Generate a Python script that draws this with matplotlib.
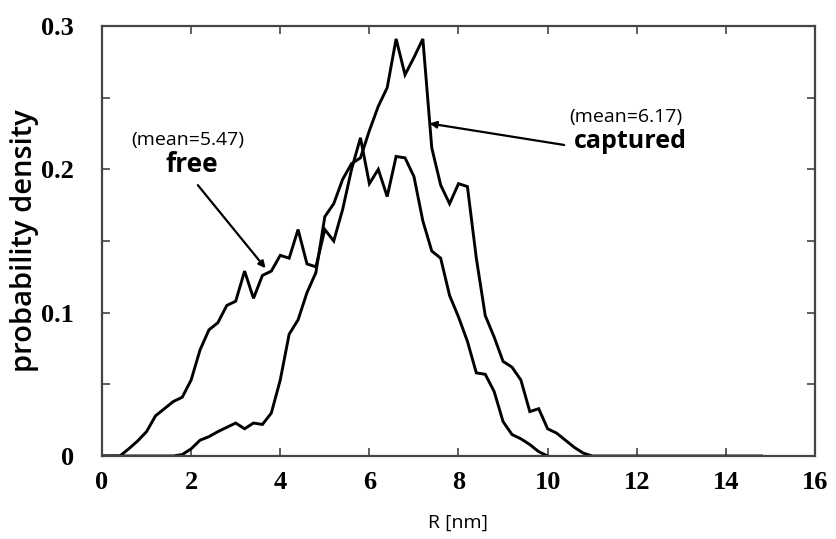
import matplotlib
matplotlib.use("Agg")
import matplotlib.pyplot as plt
import numpy as np
from matplotlib.ticker import MultipleLocator, FixedLocator

# --- data ---
free_r = [0.0, 0.2, 0.4, 0.6, 0.8, 1.0, 1.2, 1.4, 1.6, 1.8, 2.0, 2.2, 2.4, 2.6, 2.8,
          3.0, 3.2, 3.4, 3.6, 3.8, 4.0, 4.2, 4.4, 4.6, 4.8, 5.0, 5.2, 5.4, 5.6, 5.8,
          6.0, 6.2, 6.4, 6.6, 6.8, 7.0, 7.2, 7.4, 7.6, 7.8, 8.0, 8.2, 8.4, 8.6, 8.8,
          9.0, 9.2, 9.4, 9.6, 9.8, 10.0]
free_p = [0.0, 0.0, 0.0, 0.005, 0.0105, 0.017, 0.028, 0.033, 0.038, 0.041, 0.053, 0.074, 0.088, 0.093, 0.105,
          0.108, 0.129, 0.110, 0.126, 0.129, 0.140, 0.138, 0.158, 0.134, 0.132, 0.158, 0.150, 0.172, 0.200, 0.222,
          0.190, 0.200, 0.181, 0.209, 0.208, 0.195, 0.164, 0.143, 0.138, 0.112, 0.097, 0.080, 0.058, 0.057, 0.045,
          0.024, 0.015, 0.012, 0.008, 0.003, 0.0]

cap_r = [0.0, 0.2, 0.4, 0.6, 0.8, 1.0, 1.2, 1.4, 1.6, 1.8, 2.0, 2.2, 2.4, 2.6, 2.8,
         3.0, 3.2, 3.4, 3.6, 3.8, 4.0, 4.2, 4.4, 4.6, 4.8, 5.0, 5.2, 5.4, 5.6, 5.8,
         6.0, 6.2, 6.4, 6.6, 6.8, 7.0, 7.2, 7.4, 7.6, 7.8, 8.0, 8.2, 8.4, 8.6, 8.8,
         9.0, 9.2, 9.4, 9.6, 9.8, 10.0, 10.2, 10.4, 10.6, 10.8, 11.0, 12.0, 13.0, 14.0, 14.8]
cap_p = [0.0, 0.0, 0.0, 0.0, 0.0, 0.0, 0.0, 0.0, 0.0, 0.001, 0.005, 0.011, 0.0135, 0.017, 0.020,
         0.023, 0.019, 0.023, 0.022, 0.030, 0.053, 0.085, 0.095, 0.114, 0.128, 0.167, 0.176, 0.193, 0.204, 0.208,
         0.227, 0.244, 0.257, 0.291, 0.266, 0.278, 0.291, 0.215, 0.189, 0.176, 0.190, 0.188, 0.138, 0.098, 0.083,
         0.066, 0.062, 0.053, 0.031, 0.033, 0.019, 0.016, 0.011, 0.006, 0.002, 0.0, 0.0, 0.0, 0.0, 0.0]

x_ticks = [0, 2, 4, 6, 8, 10, 12, 14, 16]
y_ticks = [0, 0.1, 0.2, 0.3]
y_tick_labels = ["0", "0.1", "0.2", "0.3"]

fig = plt.figure(figsize=(8.37, 5.39), dpi=100)
ax = fig.add_axes([102/837, 1-456/539, (815-102)/837, (456-26)/539])

ax.plot(free_r, free_p, color="black", lw=2.1, solid_joinstyle="miter")
ax.plot(cap_r, cap_p, color="black", lw=2.1, solid_joinstyle="miter")

ax.set_xlim(0, 16)
ax.set_ylim(0, 0.3)
ax.xaxis.set_major_locator(FixedLocator(x_ticks))
ax.yaxis.set_major_locator(FixedLocator(y_ticks))
ax.yaxis.set_minor_locator(MultipleLocator(0.05))
ax.set_yticklabels(y_tick_labels)
ax.tick_params(which="both", direction="in", top=True, right=True, color="#444444")
ax.tick_params(which="major", length=6, width=1.2)
ax.tick_params(which="minor", length=6, width=1.2)
ax.tick_params(axis="x", which="minor", bottom=False, top=False)
for lab in ax.get_xticklabels() + ax.get_yticklabels():
    lab.set_fontfamily("Liberation Serif")
    lab.set_fontsize(19)
    lab.set_fontweight("bold")
ax.tick_params(axis="x", pad=11)
ax.tick_params(axis="y", pad=20)
for sp in ax.spines.values():
    sp.set_color("#444444")
    sp.set_linewidth(1.6)

ax.set_xlabel("R [nm]", fontsize=14, fontfamily="Open Sans", labelpad=14)
ax.set_ylabel("probability density", fontsize=21, fontfamily="Open Sans",
              fontweight="semibold")
ax.yaxis.set_label_coords(-0.089, 0.5)

# annotations
ax.text(1.92, 0.2205, "(mean=5.47)", fontsize=14, fontfamily="Open Sans",
        ha="center", va="center")
ax.text(2.01, 0.2035, "free", fontsize=19, fontfamily="Open Sans",
        fontweight="bold", ha="center", va="center")
ax.annotate("", xy=(3.67, 0.131), xytext=(2.15, 0.189),
            arrowprops=dict(arrowstyle="-|>", color="black", lw=1.6,
                            mutation_scale=10, shrinkA=0, shrinkB=0))

ax.text(11.76, 0.2365, "(mean=6.17)", fontsize=14, fontfamily="Open Sans",
        ha="center", va="center")
ax.text(11.85, 0.2195, "captured", fontsize=18, fontfamily="Open Sans",
        fontweight="bold", ha="center", va="center")
ax.annotate("", xy=(7.35, 0.232), xytext=(10.37, 0.217),
            arrowprops=dict(arrowstyle="-|>", color="black", lw=1.6,
                            mutation_scale=10, shrinkA=0, shrinkB=0))

fig.savefig("out.png", dpi=100)
